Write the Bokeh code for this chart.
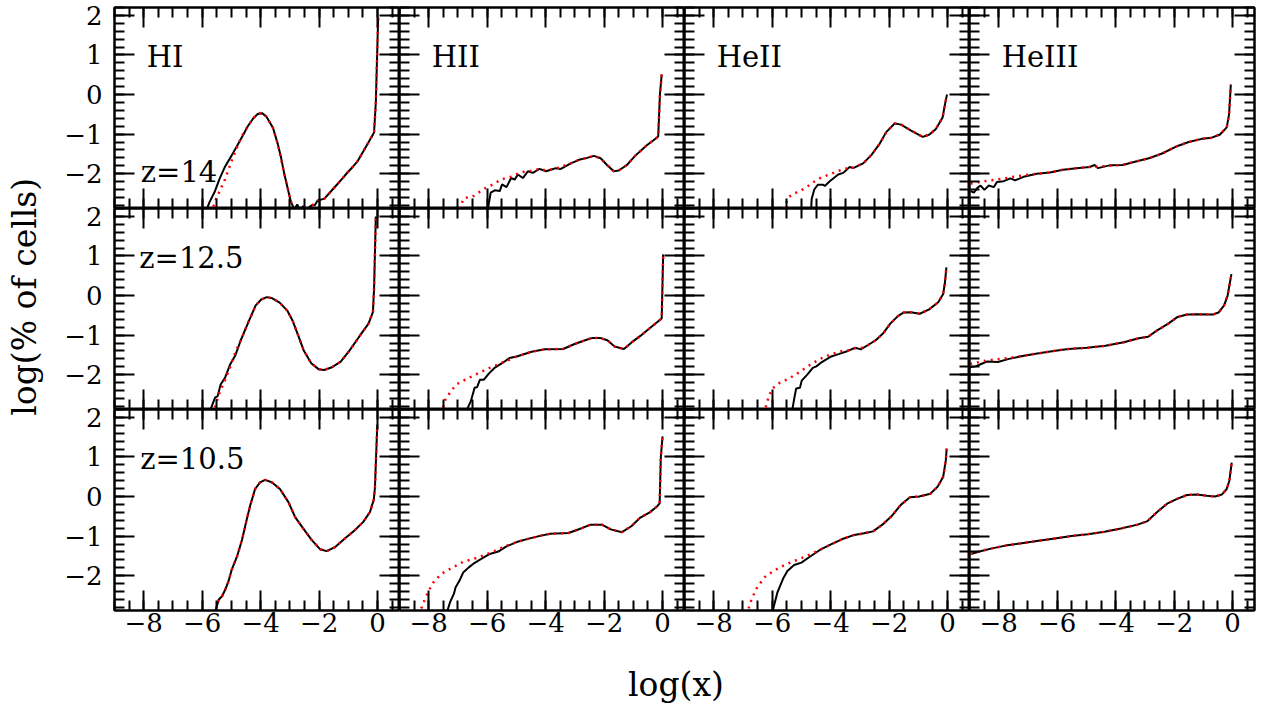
import math
from bokeh.plotting import figure
from bokeh.layouts import gridplot, row, column
from bokeh.models import LinearAxis, SingleIntervalTicker, FixedTicker, Range1d, Label
from bokeh.embed import file_html
from bokeh.resources import INLINE

# ---------------- text ----------------
species = ["HI", "HII", "HeII", "HeIII"]
redshifts = ["z=14", "z=12.5", "z=10.5"]
x_tick_labels = {-8: "\u22128", -6: "\u22126", -4: "\u22124", -2: "\u22122", 0: "0"}
y_tick_values = [-2, -1, 0, 1, 2]
y_tick_text = ["\u22122", "\u22121", "0", "1", "2"]
x_title = "log(x)"
y_title = "log(% of cells)"

# ---------------- data: z = 14 ----------------
hi_z14_black_x = [-5.86, -5.75, -5.58, -5.40, -5.23, -5.00, -4.78, -4.60, -4.44, -4.25, -4.10, -3.95, -3.80, -3.58, -3.41, -3.30, -3.19, -3.05, -2.96, -2.85, -2.75, -2.65, -2.55, -2.45, -2.35, -2.25, -2.15, -2.05, -1.82, -1.60, -1.37, -1.20, -1.03, -0.85, -0.68, -0.50, -0.29, -0.12, -0.06, 0.02]
hi_z14_black_y = [-2.93, -2.72, -2.47, -2.12, -1.84, -1.55, -1.26, -1.02, -0.80, -0.60, -0.49, -0.47, -0.56, -0.84, -1.26, -1.60, -2.01, -2.45, -2.72, -2.90, -2.78, -2.92, -2.82, -2.93, -2.85, -2.80, -2.80, -2.68, -2.63, -2.45, -2.26, -2.12, -1.97, -1.83, -1.68, -1.45, -1.18, -0.96, -0.20, 1.95]
hi_z14_red_x = [-5.70, -5.52, -5.24, -4.95, -4.67, -4.44, -4.25, -4.10, -3.95, -3.80, -3.58, -3.41, -3.19, -2.96, -2.85, -2.70, -2.60, -2.50, -2.40, -2.30, -2.15, -2.05, -1.82, -1.60, -1.37, -1.20, -1.03, -0.85, -0.68, -0.50, -0.29, -0.12, -0.06, 0.02]
hi_z14_red_y = [-3.00, -2.63, -2.18, -1.59, -1.09, -0.80, -0.60, -0.48, -0.46, -0.56, -0.84, -1.26, -2.01, -2.72, -2.95, -3.05, -2.92, -2.95, -2.93, -2.84, -2.75, -2.68, -2.63, -2.45, -2.26, -2.12, -1.97, -1.83, -1.68, -1.45, -1.18, -0.96, -0.20, 1.95]

hii_z14_black_x = [-5.99, -5.88, -5.74, -5.57, -5.49, -5.34, -5.18, -5.06, -4.95, -4.78, -4.61, -4.44, -4.21, -3.99, -3.82, -3.65, -3.48, -3.14, -2.86, -2.58, -2.35, -2.12, -1.90, -1.67, -1.50, -1.22, -0.94, -0.54, -0.32, -0.15, -0.09, -0.03]
hii_z14_black_y = [-2.95, -2.48, -2.42, -2.44, -2.27, -2.34, -2.11, -2.15, -2.02, -2.11, -1.94, -1.98, -1.88, -1.94, -1.90, -1.86, -1.88, -1.74, -1.65, -1.60, -1.55, -1.61, -1.78, -1.94, -1.92, -1.78, -1.55, -1.28, -1.16, -1.06, 0.00, 0.51]
hii_z14_red_x = [-6.95, -6.80, -6.50, -6.10, -5.80, -5.50, -5.20, -5.00, -4.70, -4.50, -4.21, -3.99, -3.65, -3.14, -2.86, -2.58, -2.35, -2.12, -1.90, -1.67, -1.50, -1.22, -0.94, -0.54, -0.32, -0.15, -0.09, -0.03]
hii_z14_red_y = [-2.90, -2.62, -2.58, -2.38, -2.27, -2.14, -2.08, -2.01, -1.94, -1.93, -1.88, -1.92, -1.87, -1.74, -1.65, -1.60, -1.55, -1.61, -1.78, -1.94, -1.92, -1.78, -1.55, -1.28, -1.16, -1.06, 0.00, 0.51]

heii_z14_black_x = [-4.67, -4.65, -4.56, -4.44, -4.25, -4.20, -4.03, -3.74, -3.57, -3.35, -3.23, -2.89, -2.61, -2.32, -2.10, -1.81, -1.59, -1.25, -0.85, -0.62, -0.40, -0.17, -0.09, -0.02]
heii_z14_black_y = [-2.95, -2.64, -2.40, -2.28, -2.28, -2.31, -2.19, -2.02, -1.98, -1.83, -1.86, -1.74, -1.53, -1.24, -0.95, -0.73, -0.76, -0.91, -1.07, -1.01, -0.87, -0.58, -0.25, 0.00]
heii_z14_red_x = [-5.60, -5.45, -5.30, -5.00, -4.75, -4.50, -4.30, -4.00, -3.75, -3.50, -3.35, -3.23, -2.89, -2.61, -2.32, -2.10, -1.81, -1.59, -1.25, -0.85, -0.62, -0.40, -0.17, -0.09, -0.02]
heii_z14_red_y = [-2.90, -2.60, -2.52, -2.42, -2.30, -2.17, -2.09, -2.01, -1.93, -1.88, -1.83, -1.85, -1.74, -1.53, -1.24, -0.95, -0.73, -0.76, -0.91, -1.07, -1.01, -0.87, -0.58, -0.25, 0.00]

heiii_z14_black_x = [-8.96, -8.85, -8.73, -8.62, -8.49, -8.34, -8.17, -8.06, -7.83, -7.60, -7.44, -7.15, -6.70, -6.25, -5.80, -5.34, -4.89, -4.72, -4.61, -4.21, -3.76, -3.31, -2.86, -2.41, -1.95, -1.50, -1.05, -0.71, -0.43, -0.20, -0.12, -0.06]
heiii_z14_black_y = [-2.44, -2.48, -2.36, -2.30, -2.41, -2.30, -2.34, -2.21, -2.19, -2.12, -2.17, -2.08, -2.00, -1.97, -1.90, -1.86, -1.83, -1.78, -1.86, -1.79, -1.78, -1.69, -1.61, -1.49, -1.32, -1.20, -1.12, -1.09, -1.01, -0.83, -0.50, 0.25]
heiii_z14_red_x = [-8.96, -8.51, -8.06, -7.49, -6.93, -6.25, -5.80, -5.34, -4.89, -4.41, -3.76, -3.31, -2.86, -2.41, -1.95, -1.50, -1.05, -0.71, -0.43, -0.20, -0.12, -0.06]
heiii_z14_red_y = [-2.25, -2.19, -2.15, -2.08, -2.02, -1.97, -1.90, -1.86, -1.83, -1.81, -1.78, -1.69, -1.61, -1.49, -1.32, -1.20, -1.12, -1.09, -1.01, -0.83, -0.50, 0.25]

# ---------------- data: z = 12.5 ----------------
hi_z125_black_x = [-5.75, -5.69, -5.56, -5.47, -5.37, -5.22, -5.05, -4.86, -4.68, -4.42, -4.17, -3.98, -3.79, -3.60, -3.35, -3.09, -2.91, -2.72, -2.53, -2.27, -2.02, -1.83, -1.58, -1.26, -0.95, -0.63, -0.31, -0.16, -0.12, -0.06]
hi_z125_black_y = [-3.00, -2.83, -2.58, -2.54, -2.25, -2.08, -1.75, -1.50, -1.13, -0.67, -0.25, -0.10, -0.04, -0.07, -0.18, -0.38, -0.63, -1.00, -1.38, -1.71, -1.86, -1.88, -1.82, -1.67, -1.38, -1.04, -0.71, -0.42, 0.17, 2.00]
hi_z125_red_x = [-5.62, -5.59, -5.43, -5.24, -5.05, -4.86, -4.68, -4.42, -4.17, -3.98, -3.79, -3.60, -3.35, -3.09, -2.91, -2.72, -2.53, -2.27, -2.02, -1.83, -1.58, -1.26, -0.95, -0.63, -0.31, -0.16, -0.12, -0.06]
hi_z125_red_y = [-3.00, -2.88, -2.50, -2.17, -1.82, -1.42, -1.13, -0.67, -0.25, -0.10, -0.04, -0.07, -0.18, -0.38, -0.63, -1.00, -1.38, -1.71, -1.86, -1.88, -1.82, -1.67, -1.38, -1.04, -0.71, -0.42, 0.17, 2.00]

hii_z125_black_x = [-6.72, -6.69, -6.56, -6.43, -6.35, -6.25, -6.12, -5.93, -5.75, -5.49, -5.24, -4.99, -4.48, -4.03, -3.40, -3.03, -2.65, -2.40, -2.14, -1.89, -1.64, -1.32, -1.07, -0.76, -0.38, -0.03, 0.02]
hii_z125_black_y = [-3.00, -2.88, -2.67, -2.33, -2.32, -2.13, -2.13, -1.96, -1.83, -1.71, -1.58, -1.54, -1.42, -1.36, -1.35, -1.23, -1.13, -1.07, -1.07, -1.13, -1.29, -1.35, -1.19, -1.02, -0.79, -0.58, 1.04]
hii_z125_red_x = [-7.56, -7.53, -7.43, -7.28, -7.06, -6.68, -6.30, -5.92, -5.54, -5.17, -4.99, -4.48, -4.03, -3.40, -3.03, -2.65, -2.40, -2.14, -1.89, -1.64, -1.32, -1.07, -0.76, -0.38, -0.03, 0.02]
hii_z125_red_y = [-3.00, -2.88, -2.63, -2.46, -2.25, -2.10, -1.96, -1.83, -1.71, -1.60, -1.54, -1.42, -1.36, -1.35, -1.23, -1.13, -1.07, -1.07, -1.13, -1.29, -1.35, -1.19, -1.02, -0.79, -0.58, 1.04]

heii_z125_black_x = [-5.33, -5.31, -5.24, -5.18, -5.05, -4.99, -4.80, -4.61, -4.49, -4.30, -3.98, -3.73, -3.41, -3.16, -2.97, -2.72, -2.46, -2.21, -1.96, -1.70, -1.51, -1.26, -0.95, -0.63, -0.32, -0.15, -0.09, -0.04]
heii_z125_black_y = [-3.00, -2.88, -2.58, -2.35, -2.33, -2.15, -2.00, -1.83, -1.79, -1.68, -1.54, -1.48, -1.40, -1.32, -1.36, -1.25, -1.13, -0.96, -0.71, -0.52, -0.43, -0.42, -0.46, -0.35, -0.17, 0.04, 0.33, 0.71]
heii_z125_red_x = [-6.26, -6.23, -6.13, -6.00, -5.75, -5.43, -5.12, -4.74, -4.36, -3.98, -3.60, -3.41, -3.16, -2.97, -2.72, -2.46, -2.21, -1.96, -1.70, -1.51, -1.26, -0.95, -0.63, -0.32, -0.15, -0.09, -0.04]
heii_z125_red_y = [-3.00, -2.85, -2.58, -2.35, -2.21, -2.10, -1.96, -1.77, -1.60, -1.48, -1.40, -1.39, -1.33, -1.33, -1.25, -1.13, -0.96, -0.71, -0.52, -0.43, -0.42, -0.46, -0.35, -0.17, 0.04, 0.33, 0.71]

heiii_z125_black_x = [-8.98, -8.79, -8.60, -8.41, -8.03, -7.65, -7.14, -6.63, -6.12, -5.62, -4.98, -4.35, -3.72, -3.21, -2.89, -2.58, -2.20, -1.88, -1.56, -1.18, -0.67, -0.48, -0.29, -0.17, -0.04]
heiii_z125_black_y = [-1.81, -1.79, -1.73, -1.67, -1.68, -1.60, -1.52, -1.46, -1.40, -1.35, -1.32, -1.27, -1.18, -1.08, -1.04, -0.88, -0.71, -0.54, -0.48, -0.47, -0.48, -0.43, -0.25, 0.00, 0.54]
heiii_z125_red_x = [-8.98, -8.41, -7.90, -7.14, -6.63, -6.12, -5.62, -4.98, -4.35, -3.72, -3.21, -2.89, -2.58, -2.20, -1.88, -1.56, -1.18, -0.67, -0.48, -0.29, -0.17, -0.04]
heiii_z125_red_y = [-1.73, -1.64, -1.60, -1.52, -1.46, -1.40, -1.35, -1.32, -1.27, -1.18, -1.08, -1.04, -0.88, -0.71, -0.54, -0.48, -0.47, -0.48, -0.43, -0.25, 0.00, 0.54]

# ---------------- data: z = 10.5 ----------------
hi_z105_black_x = [-5.60, -5.55, -5.43, -5.32, -5.21, -5.10, -4.99, -4.81, -4.64, -4.47, -4.36, -4.19, -4.02, -3.85, -3.62, -3.34, -3.05, -2.82, -2.54, -2.25, -1.97, -1.74, -1.46, -1.12, -0.78, -0.49, -0.26, -0.13, -0.09, -0.01]
hi_z105_black_y = [-3.00, -2.89, -2.60, -2.52, -2.35, -2.14, -1.85, -1.52, -1.10, -0.56, -0.23, 0.19, 0.36, 0.42, 0.36, 0.19, -0.14, -0.52, -0.81, -1.10, -1.33, -1.38, -1.28, -1.06, -0.85, -0.64, -0.39, -0.08, 0.23, 1.82]
hi_z105_red_x = hi_z105_black_x
hi_z105_red_y = hi_z105_black_y

hii_z105_black_x = [-7.40, -7.36, -7.27, -7.14, -7.08, -6.95, -6.82, -6.63, -6.44, -6.19, -5.94, -5.62, -5.37, -4.99, -4.61, -4.23, -3.85, -3.22, -2.84, -2.46, -2.08, -1.77, -1.39, -1.07, -0.76, -0.44, -0.19, -0.10, -0.06, 0.00]
hii_z105_black_y = [-3.00, -2.88, -2.67, -2.46, -2.29, -2.13, -1.92, -1.79, -1.68, -1.57, -1.46, -1.39, -1.27, -1.15, -1.07, -1.00, -0.94, -0.92, -0.82, -0.71, -0.71, -0.83, -0.90, -0.75, -0.53, -0.40, -0.25, -0.17, 1.00, 1.52]
hii_z105_red_x = [-8.32, -8.28, -8.15, -8.00, -7.84, -7.58, -7.27, -6.82, -6.44, -5.88, -5.37, -4.99, -4.61, -4.23, -3.85, -3.22, -2.84, -2.46, -2.08, -1.77, -1.39, -1.07, -0.76, -0.44, -0.19, -0.10, -0.06, 0.00]
hii_z105_red_y = [-3.00, -2.88, -2.63, -2.38, -2.17, -1.96, -1.83, -1.65, -1.57, -1.42, -1.25, -1.15, -1.07, -1.00, -0.94, -0.92, -0.82, -0.71, -0.71, -0.83, -0.90, -0.75, -0.53, -0.40, -0.25, -0.17, 1.00, 1.52]

heii_z105_black_x = [-6.01, -5.98, -5.82, -5.63, -5.48, -5.25, -5.00, -4.75, -4.37, -3.99, -3.62, -3.24, -2.86, -2.55, -2.23, -1.92, -1.60, -1.29, -0.97, -0.59, -0.34, -0.15, -0.06, -0.03]
heii_z105_black_y = [-3.00, -2.88, -2.42, -2.08, -1.88, -1.73, -1.67, -1.54, -1.35, -1.21, -1.08, -0.98, -0.93, -0.88, -0.71, -0.50, -0.21, -0.02, 0.00, 0.07, 0.25, 0.50, 0.92, 1.21]
heii_z105_red_x = [-6.86, -6.83, -6.70, -6.51, -6.26, -5.95, -5.63, -5.25, -4.81, -4.37, -3.99, -3.62, -3.24, -2.86, -2.55, -2.23, -1.92, -1.60, -1.29, -0.97, -0.59, -0.34, -0.15, -0.06, -0.03]
heii_z105_red_y = [-3.00, -2.88, -2.58, -2.29, -2.04, -1.88, -1.75, -1.63, -1.50, -1.35, -1.21, -1.08, -0.98, -0.93, -0.88, -0.71, -0.50, -0.21, -0.02, 0.00, 0.07, 0.25, 0.50, 0.92, 1.21]

heiii_z105_black_x = [-8.96, -8.56, -8.23, -7.77, -7.21, -6.64, -6.08, -5.51, -4.95, -4.38, -3.82, -3.25, -2.91, -2.58, -2.24, -1.90, -1.56, -1.22, -0.88, -0.60, -0.37, -0.20, -0.11, -0.03]
heiii_z105_black_y = [-1.45, -1.37, -1.31, -1.24, -1.18, -1.12, -1.06, -1.00, -0.95, -0.89, -0.81, -0.71, -0.62, -0.39, -0.18, -0.06, 0.04, 0.05, 0.02, 0.00, 0.05, 0.19, 0.40, 0.86]
heiii_z105_red_x = heiii_z105_black_x
heiii_z105_red_y = heiii_z105_black_y

curves = [
    [(hi_z14_black_x, hi_z14_black_y, hi_z14_red_x, hi_z14_red_y),
     (hii_z14_black_x, hii_z14_black_y, hii_z14_red_x, hii_z14_red_y),
     (heii_z14_black_x, heii_z14_black_y, heii_z14_red_x, heii_z14_red_y),
     (heiii_z14_black_x, heiii_z14_black_y, heiii_z14_red_x, heiii_z14_red_y)],
    [(hi_z125_black_x, hi_z125_black_y, hi_z125_red_x, hi_z125_red_y),
     (hii_z125_black_x, hii_z125_black_y, hii_z125_red_x, hii_z125_red_y),
     (heii_z125_black_x, heii_z125_black_y, heii_z125_red_x, heii_z125_red_y),
     (heiii_z125_black_x, heiii_z125_black_y, heiii_z125_red_x, heiii_z125_red_y)],
    [(hi_z105_black_x, hi_z105_black_y, hi_z105_red_x, hi_z105_red_y),
     (hii_z105_black_x, hii_z105_black_y, hii_z105_red_x, hii_z105_red_y),
     (heii_z105_black_x, heii_z105_black_y, heii_z105_red_x, heii_z105_red_y),
     (heiii_z105_black_x, heiii_z105_black_y, heiii_z105_red_x, heiii_z105_red_y)],
]

# ---------------- style / layout ----------------
FONT = "DejaVu Serif"
FW, FH = 285, 201
X0, X1 = -9.0, 0.75
Y0, Y1 = -2.88, 2.2
TOP, BOTTOM, RIGHT = 7, 33, 4
YT_W = 44          # strip holding the y title
YL_W = 68          # strip holding the y tick labels of the left column
GRID_LEFT = 2
XT_H = 62          # strip holding the x title
GRID_H = TOP + 3 * FH + BOTTOM
TOTAL_W = YT_W + YL_W + GRID_LEFT + 4 * FW + RIGHT
species_label_pos = (-7.9, 0.95)
redshift_label_pos = [(-8.1, -1.97), (-8.15, 0.96), (-8.12, 0.94)]


def style_axis(ax, labels, overrides=None):
    ax.axis_line_color = "black"
    ax.axis_line_width = 2
    ax.major_tick_in = 20
    ax.major_tick_out = 0
    ax.minor_tick_in = 10
    ax.minor_tick_out = 0
    ax.major_tick_line_color = "black"
    ax.minor_tick_line_color = "black"
    ax.major_tick_line_width = 2
    ax.minor_tick_line_width = 2
    if labels:
        ax.major_label_overrides = overrides
        ax.major_label_text_font = FONT
        ax.major_label_text_font_size = "26px"
        ax.major_label_text_color = "black"
        ax.major_label_standoff = 2
    else:
        ax.major_label_text_font_size = "0px"
        ax.major_label_text_color = None
        ax.major_label_standoff = 0


figs = []
for r in range(3):
    fig_row = []
    for c in range(4):
        p = figure(frame_width=FW, frame_height=FH,
                   x_range=Range1d(X0, X1), y_range=Range1d(Y0, Y1),
                   output_backend="svg", toolbar_location=None,
                   x_axis_location=None, y_axis_location=None, min_border=0)
        p.min_border_left = GRID_LEFT if c == 0 else 0
        p.min_border_right = RIGHT if c == 3 else 0
        p.min_border_top = TOP if r == 0 else 0
        p.min_border_bottom = BOTTOM if r == 2 else 0
        p.outline_line_color = "black"
        p.outline_line_width = 2
        p.background_fill_color = "white"
        p.border_fill_color = "white"
        p.grid.grid_line_color = None

        for loc in ["left", "right"]:
            ax = LinearAxis(ticker=SingleIntervalTicker(interval=1, num_minor_ticks=5))
            style_axis(ax, False)
            p.add_layout(ax, loc)
        for loc in ["below", "above"]:
            ax = LinearAxis(ticker=SingleIntervalTicker(interval=2, num_minor_ticks=4))
            style_axis(ax, loc == "below" and r == 2, x_tick_labels)
            p.add_layout(ax, loc)

        bx, by, rx, ry = curves[r][c]
        p.line(bx, by, line_color="black", line_width=2)
        p.line(rx, ry, line_color="#ff0000", line_width=2.5, line_dash="2 5")

        if r == 0:
            p.add_layout(Label(x=species_label_pos[0], y=species_label_pos[1], text=species[c],
                               text_font=FONT, text_font_size="29px", text_color="black",
                               text_baseline="alphabetic"))
        if c == 0:
            lx, ly = redshift_label_pos[r]
            p.add_layout(Label(x=lx, y=ly, text=redshifts[r], text_font=FONT,
                               text_font_size="29px", text_color="black",
                               text_baseline="alphabetic"))
        fig_row.append(p)
    figs.append(fig_row)

grid = gridplot(figs, toolbar_location=None)

# strip with the left column's y tick labels: the three rows' y ranges stacked
span = Y1 - Y0
ylab_ticks = []
ylab_text = {}
for r in range(3):
    for v, t in zip(y_tick_values, y_tick_text):
        pos = (2 - r) * span + (v - Y0)
        ylab_ticks.append(pos)
        ylab_text[pos] = t
ylab = figure(frame_width=1, frame_height=3 * FH, x_range=Range1d(0, 1), y_range=Range1d(0, 3 * span),
              output_backend="svg", toolbar_location=None,
              x_axis_location=None, y_axis_location=None, min_border=0)
ylab.min_border_left = YL_W - 1
ylab.min_border_top = TOP
ylab.min_border_bottom = BOTTOM
ylab.outline_line_color = None
ylab.grid.grid_line_color = None
yax = LinearAxis(ticker=FixedTicker(ticks=ylab_ticks, minor_ticks=[]))
yax.axis_line_color = None
yax.major_tick_line_color = None
yax.major_tick_in = 0
yax.major_tick_out = 0
yax.minor_tick_line_color = None
yax.major_label_overrides = ylab_text
yax.major_label_text_font = FONT
yax.major_label_text_font_size = "26px"
yax.major_label_text_color = "black"
yax.major_label_standoff = 9
ylab.add_layout(yax, "left")

# strip at the left holding the y title (pixel coordinates of the strip)
ytitle = figure(width=YT_W, height=GRID_H, x_range=Range1d(0, YT_W), y_range=Range1d(GRID_H, 0),
                output_backend="svg", toolbar_location=None,
                x_axis_location=None, y_axis_location=None, min_border=0)
ytitle.outline_line_color = None
ytitle.grid.grid_line_color = None
ytitle.add_layout(Label(x=24, y=TOP + 1.5 * FH, text=y_title, angle=math.pi / 2,
                        text_font=FONT, text_font_size="33px", text_color="black",
                        text_align="center", text_baseline="middle"))

# strip below holding the x title
xtitle = figure(width=TOTAL_W, height=XT_H, x_range=Range1d(0, TOTAL_W), y_range=Range1d(XT_H, 0),
                output_backend="svg", toolbar_location=None,
                x_axis_location=None, y_axis_location=None, min_border=0)
xtitle.outline_line_color = None
xtitle.grid.grid_line_color = None
xtitle.add_layout(Label(x=YT_W + YL_W + GRID_LEFT + 1.97 * FW, y=41, text=x_title,
                        text_font=FONT, text_font_size="33px", text_color="black",
                        text_align="center", text_baseline="middle"))

layout = column(row(ytitle, ylab, grid, spacing=0), xtitle, spacing=0)
open("out.html", "w").write(file_html(layout, INLINE))
